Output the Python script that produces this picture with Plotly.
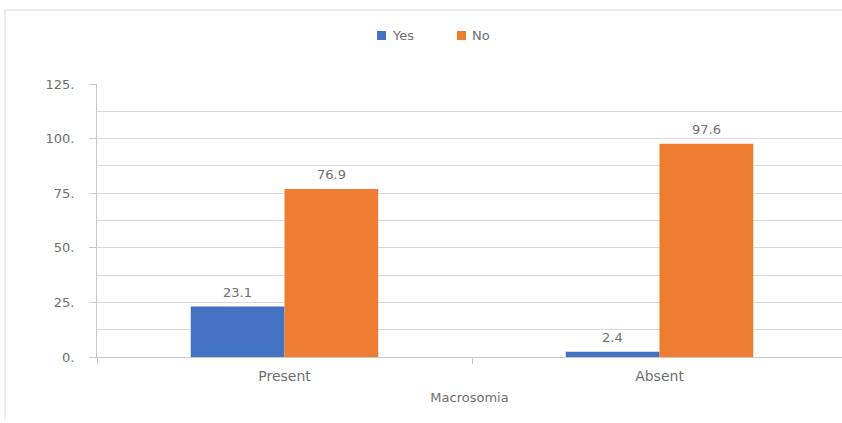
import plotly.graph_objects as go

categories = ["Present", "Absent"]
yes_values = [23.1, 2.4]
no_values = [76.9, 97.6]
y_tickvals = [0, 25, 50, 75, 100, 125]
y_ticktext = ["0.", "25.", "50.", "75.", "100.", "125."]

BLUE = "#4472C4"
ORANGE = "#ED7D31"
TEXT = "#6f6f6f"
GRID = "#d9d9d9"
AXIS = "#c8c8c8"
FONT = "DejaVu Sans"

W, H = 842, 423
L, R, T, B = 97, 0, 84, 66
pw, ph = W - L - R, H - T - B
CAT_PX = 375  # pixels per category slot


def px_x(x):
    return (x - L) / pw


def px_y(y):
    return (T + ph - y) / ph


series = [("Yes", yes_values, BLUE), ("No", no_values, ORANGE)]
bar_px = CAT_PX * 0.5 / len(series)

fig = go.Figure()
for i, (name, vals, col) in enumerate(series):
    fig.add_trace(go.Bar(
        name=name, x=categories, y=vals, marker=dict(color=col, line=dict(width=0)),
        showlegend=False,
    ))
    # value labels just above each bar
    offset = (i - (len(series) - 1) / 2) * bar_px
    for cat, v in zip(categories, vals):
        fig.add_annotation(x=cat, y=v, text=f"{v:.1f}", showarrow=False,
                           xanchor="center", yanchor="bottom", xshift=offset, yshift=5,
                           font=dict(family=FONT, size=13, color=TEXT))

# outer chart frame (left and top edges)
fig.add_shape(type="line", xref="paper", yref="paper",
              x0=px_x(5), x1=px_x(5), y0=px_y(420), y1=px_y(10),
              line=dict(color=GRID, width=1))
fig.add_shape(type="line", xref="paper", yref="paper",
              x0=px_x(5), x1=px_x(842), y0=px_y(10), y1=px_y(10),
              line=dict(color=GRID, width=1))

# compact legend: small square + label per series
legend_x = [377, 457]
for (name, _, col), lx in zip(series, legend_x):
    fig.add_shape(type="rect", xref="paper", yref="paper",
                  x0=px_x(lx), x1=px_x(lx + 9), y0=px_y(40), y1=px_y(31),
                  fillcolor=col, line=dict(width=0))
    fig.add_annotation(xref="paper", yref="paper", x=px_x(lx + 13), y=px_y(35.5),
                       text=name, showarrow=False, xanchor="left", yanchor="middle",
                       font=dict(family=FONT, size=13, color=TEXT))

fig.update_layout(
    width=W, height=H, margin=dict(l=L, r=R, t=T, b=B, autoexpand=False),
    paper_bgcolor="white", plot_bgcolor="white",
    barmode="group", bargap=0.5, bargroupgap=0,
    font=dict(family=FONT, color=TEXT, size=13),
    showlegend=False,
    xaxis=dict(range=[-0.5, 1.5 - 5 / CAT_PX], showline=True, linecolor=AXIS,
               ticks="outside", tickson="boundaries", ticklen=6, tickcolor=AXIS,
               tickfont=dict(size=14, color=TEXT, family=FONT), showgrid=False,
               ticklabelstandoff=6,
               title=dict(text="Macrosomia", font=dict(size=13, color=TEXT, family=FONT),
                          standoff=10)),
    yaxis=dict(range=[0, 125], tickvals=y_tickvals, ticktext=y_ticktext,
               showline=True, linecolor=AXIS, ticks="outside", ticklen=7,
               tickcolor=AXIS, tickfont=dict(size=13, color=TEXT, family=FONT),
               ticklabelstandoff=12,
               showgrid=True, gridcolor=GRID, zeroline=False,
               minor=dict(dtick=12.5, tick0=0, showgrid=True, gridcolor=GRID, ticks="")),
)

fig.write_html("out.html")
